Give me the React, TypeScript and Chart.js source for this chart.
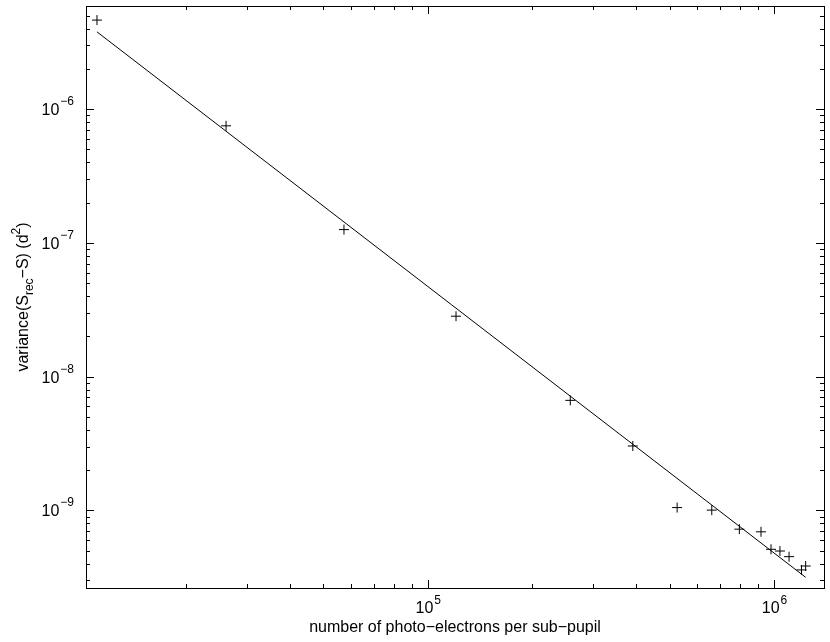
import React, { useEffect, useRef } from "react";
import { Chart, registerables } from "chart.js";

Chart.register(...registerables);

// photo-electrons per sub-pupil
const xValues = [1.109e4, 2.616e4, 5.73e4, 1.207e5, 2.58e5, 3.91e5, 5.25e5, 6.61e5, 7.94e5, 9.17e5, 9.8e5, 1.04e6, 1.105e6, 1.2e6, 1.234e6];
// variance(S_rec - S) (d^2)
const yValues = [4.63e-6, 7.5e-7, 1.257e-7, 2.83e-8, 6.65e-9, 3.03e-9, 1.05e-9, 1.005e-9, 7.24e-10, 6.92e-10, 5.12e-10, 4.97e-10, 4.51e-10, 3.59e-10, 3.84e-10];
// fitted line endpoints
const fitX = [1.109e4, 1.234e6];
const fitY = [3.78e-6, 3.16e-10];

const xMin = 1.031e4;
const xMax = 1.394e6;
const yMin = 2.63e-10;
const yMax = 5.9e-6;

const xTickExps = [5, 6];
const yTickExps = [-9, -8, -7, -6];

const xTitle = "number of photo\u2212electrons per sub\u2212pupil";

const FONT = "'Liberation Sans', Arial, Helvetica, sans-serif";

function logTicks(min: number, max: number) {
  const res: { v: number; major: boolean }[] = [];
  const e0 = Math.floor(Math.log10(min));
  const e1 = Math.ceil(Math.log10(max));
  for (let e = e0; e <= e1; e++) {
    for (let m = 1; m <= 9; m++) {
      const v = m * Math.pow(10, e);
      if (v >= min && v <= max) res.push({ v, major: m === 1 });
    }
  }
  return res;
}

const framePlugin = {
  id: "gnuframe",
  afterDraw(chart: any) {
    const { ctx, chartArea } = chart;
    const { left, right, top, bottom } = chartArea;
    const xs = chart.scales.x;
    const ys = chart.scales.y;
    ctx.save();
    ctx.strokeStyle = "#000";
    ctx.lineWidth = 1;
    ctx.strokeRect(Math.round(left) + 0.5, Math.round(top) + 0.5, Math.round(right - left), Math.round(bottom - top));

    ctx.beginPath();
    for (const t of logTicks(xMin, xMax)) {
      const px = Math.round(xs.getPixelForValue(t.v)) + 0.5;
      const len = t.major ? 8 : 4;
      ctx.moveTo(px, bottom);
      ctx.lineTo(px, bottom - len);
      ctx.moveTo(px, top);
      ctx.lineTo(px, top + len);
    }
    for (const t of logTicks(yMin, yMax)) {
      const py = Math.round(ys.getPixelForValue(t.v)) + 0.5;
      const len = t.major ? 8 : 4;
      ctx.moveTo(left, py);
      ctx.lineTo(left + len, py);
      ctx.moveTo(right, py);
      ctx.lineTo(right - len, py);
    }
    ctx.stroke();

    ctx.fillStyle = "#000";
    ctx.textBaseline = "alphabetic";
    ctx.textAlign = "left";
    const mainF = "16px " + FONT;
    const supF = "12px " + FONT;

    // x tick labels
    for (const e of xTickExps) {
      const px = xs.getPixelForValue(Math.pow(10, e));
      const base = "10";
      const sup = String(e);
      ctx.font = mainF;
      const w1 = ctx.measureText(base).width;
      ctx.font = supF;
      const w2 = ctx.measureText(sup).width;
      const x0 = px - (w1 + w2) / 2;
      ctx.font = mainF;
      ctx.fillText(base, x0, bottom + 25);
      ctx.font = supF;
      ctx.fillText(sup, x0 + w1 + 1, bottom + 16);
    }
    // y tick labels
    for (const e of yTickExps) {
      const py = ys.getPixelForValue(Math.pow(10, e));
      const base = "10";
      const sup = "\u2212" + String(-e);
      ctx.font = mainF;
      const w1 = ctx.measureText(base).width;
      ctx.font = supF;
      const w2 = ctx.measureText(sup).width;
      const xr = left - 12;
      const x0 = xr - w1 - w2 - 1;
      ctx.font = mainF;
      ctx.fillText(base, x0, py + 6);
      ctx.font = supF;
      ctx.fillText(sup, x0 + w1 + 1, py - 4);
    }

    // x title
    ctx.font = mainF;
    ctx.textAlign = "center";
    ctx.fillText(xTitle, (left + right) / 2, bottom + 44);

    // y title with sub/superscripts
    const parts: { t: string; f: string; dy: number }[] = [
      { t: "variance(S", f: mainF, dy: 0 },
      { t: "rec", f: supF, dy: 5 },
      { t: "\u2212S) (d", f: mainF, dy: 0 },
      { t: "2", f: supF, dy: -8 },
      { t: ")", f: mainF, dy: 0 },
    ];
    ctx.textAlign = "left";
    let total = 0;
    for (const p of parts) {
      ctx.font = p.f;
      total += ctx.measureText(p.t).width;
    }
    ctx.translate(28, (top + bottom) / 2);
    ctx.rotate(-Math.PI / 2);
    let cx = -total / 2;
    for (const p of parts) {
      ctx.font = p.f;
      ctx.fillText(p.t, cx, p.dy);
      cx += ctx.measureText(p.t).width;
    }
    ctx.restore();
  },
};

export default function App() {
  const ref = useRef<HTMLCanvasElement | null>(null);
  useEffect(() => {
    if (!ref.current) return;
    const points = xValues.map((x, i) => ({ x, y: yValues[i] }));
    const fit = fitX.map((x, i) => ({ x, y: fitY[i] }));
    const chart = new Chart(ref.current, {
      type: "scatter",
      data: {
        datasets: [
          {
            label: "fit",
            data: fit,
            showLine: true,
            borderColor: "#000",
            borderWidth: 1,
            pointRadius: 0,
            fill: false,
          },
          {
            label: "data",
            data: points,
            pointStyle: "cross",
            pointRadius: 5,
            pointBorderWidth: 1,
            borderColor: "#000",
            backgroundColor: "#000",
            showLine: false,
          },
        ],
      },
      options: {
        responsive: false,
        animation: false,
        layout: { padding: { left: 86, right: 6, top: 5, bottom: 54 } },
        plugins: {
          legend: { display: false },
          tooltip: { enabled: false },
        },
        scales: {
          x: { type: "logarithmic", min: xMin, max: xMax, display: false },
          y: { type: "logarithmic", min: yMin, max: yMax, display: false },
        },
      },
      plugins: [framePlugin],
    });
    return () => chart.destroy();
  }, []);
  return (
    <div style={{ position: "fixed", left: 0, top: 0, width: 830, height: 642, background: "#fff" }}>
      <canvas ref={ref} width={830} height={642} style={{ display: "block" }} />
    </div>
  );
}
